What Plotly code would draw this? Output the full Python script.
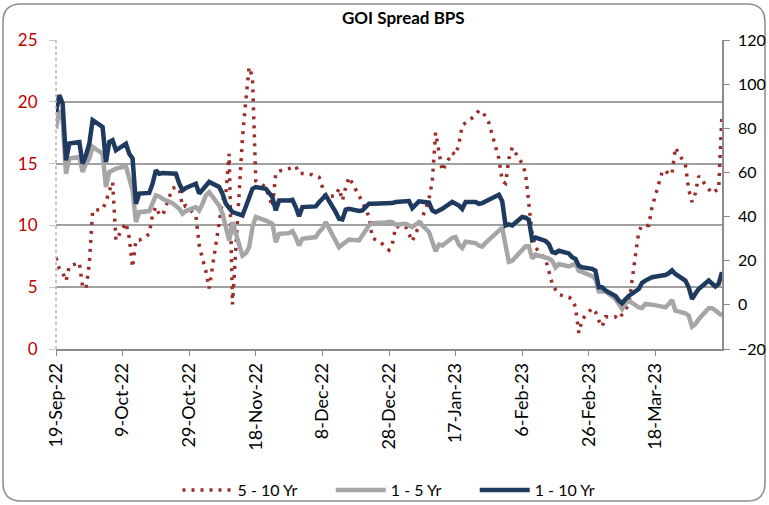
import pandas as pd
import plotly.graph_objects as go

# Trading-day calendar (weekdays) covered by the chart
dates = pd.bdate_range("2022-09-19", "2023-04-07")

# 5 - 10 Yr spread (bps, left axis)
spread_5_10 = [
    7.4, 6.5, 6.2, 5.5, 6.7,
    7.0, 5.0, 4.9, 6.9, 11.2,
    11.3, 11.9, 12.8, 13.5, 8.8,
    10.2, 9.0, 6.6, 8.8, 8.8,
    9.3, 10.9, 11.5, 10.9, 10.8,
    13.0, 13.1, 13.0, 11.5, 11.6,
    10.8, 8.4, 7.3, 6.3, 4.9,
    10.3, 12.0, 12.5, 15.8, 3.6,
    17.1, 20.1, 22.8, 22.0, 13.6,
    13.1, 12.3, 11.5, 14.2, 14.4,
    14.6, 14.7, 14.8, 14.2, 14.2,
    14.1, 14.0, 13.9, 13.1, 12.3,
    12.4, 13.0, 12.0, 13.1, 13.9,
    12.5, 11.9, 11.3, 10.7, 9.0,
    8.5, 8.2, 8.0, 8.5, 9.9,
    9.9, 9.3, 8.7, 9.4, 9.9,
    12.1, 13.6, 17.5, 15.9, 14.4,
    15.9, 15.7, 16.6, 18.1, 18.3,
    18.9, 19.3, 19.2, 18.8, 18.3,
    15.4, 13.6, 13.4, 15.4, 16.3,
    15.0, 14.2, 11.8, 9.3, 8.2,
    7.3, 6.3, 5.3, 4.8, 4.4,
    4.2, 4.0, 3.4, 1.3, 2.4,
    3.3, 3.0, 2.3, 1.8, 2.6,
    2.6, 2.4, 2.8, 3.2, 3.6,
    9.5, 10.0, 10.0, 10.0, 11.5,
    14.3, 14.5, 14.1, 14.2, 16.3,
    14.9, 12.9, 11.9, 12.6, 14.0,
    13.0, 12.6, 12.8, 12.9, 19.1,
]

# 1 - 5 Yr spread (bps, right axis)
spread_1_5 = [
    79.9, 88.2, 83.7, 59.4, 66.3,
    67.0, 60.2, 64.0, 66.3, 71.6,
    68.5, 53.4, 60.2, 61.0, 61.7,
    62.8, 58.0, 51.9, 37.5, 42.0,
    42.5, 45.8, 49.6, 49.1, 48.1,
    46.1, 45.0, 43.5, 41.3, 42.5,
    44.3, 42.8, 45.8, 49.6, 51.1,
    45.0, 41.3, 35.2, 29.2, 37.5,
    22.3, 23.4, 26.1, 35.2, 39.8,
    38.2, 37.5, 36.7, 28.4, 32.2,
    32.5, 33.4, 30.7, 26.9, 29.9,
    30.4, 30.7, 33.0, 34.5, 37.5,
    29.5, 26.1, 27.3, 28.4, 29.6,
    29.2, 31.4, 34.0, 36.0, 37.0,
    37.0, 37.3, 37.6, 37.5, 36.3,
    36.7, 36.0, 35.2, 36.4, 37.5,
    33.0, 28.4, 24.3, 27.3, 26.9,
    30.4, 30.7, 27.3, 25.8, 28.6,
    28.0, 26.9, 26.4, 28.1, 29.5,
    34.0, 35.0, 27.0, 19.5, 20.0,
    24.6, 26.5, 26.5, 21.0, 22.8,
    21.5, 21.0, 20.0, 17.0, 18.5,
    17.4, 18.0, 18.6, 15.5, 15.0,
    13.0, 11.7, 6.1, 6.1, 6.1,
    2.7, 0.4, -1.9, 0.7, 1.9,
    -1.1, -1.4, 0.4, 0.4, 0.1,
    -0.8, -1.1, 0.4, 2.2, -2.6,
    -3.8, -4.9, -9.9, -8.7, -6.5,
    -1.5, -1.5, -2.5, -3.8, -4.9,
]

# 1 - 10 Yr spread (bps, right axis)
spread_1_10 = [
    87.4, 95.0, 91.2, 65.5, 73.1,
    73.8, 64.0, 67.8, 73.0, 83.7,
    80.6, 64.7, 73.8, 74.6, 70.0,
    73.0, 68.5, 66.3, 45.8, 50.4,
    50.7, 54.9, 61.0, 59.4, 59.7,
    59.7, 59.4, 55.0, 51.9, 53.0,
    54.9, 50.4, 52.2, 54.6, 55.7,
    53.4, 50.4, 45.8, 43.5, 42.0,
    40.5, 44.3, 48.1, 52.6, 53.4,
    52.6, 50.7, 48.8, 42.8, 47.3,
    47.3, 47.6, 44.3, 40.2, 44.3,
    44.3, 44.6, 46.5, 48.0, 49.6,
    42.0, 39.0, 38.7, 43.1, 43.5,
    42.5, 42.8, 44.3, 45.8, 45.8,
    45.8, 45.8, 45.8, 46.1, 46.6,
    46.6, 47.0, 43.8, 45.5, 46.9,
    46.3, 42.8, 42.0, 42.5, 43.5,
    46.6, 45.8, 45.0, 43.5, 46.6,
    46.6, 45.8, 46.1, 47.0, 47.6,
    49.9, 47.0, 36.0, 36.5, 36.0,
    39.8, 39.5, 38.5, 29.5, 30.5,
    29.0, 27.5, 24.0, 23.5, 24.5,
    23.3, 21.6, 20.8, 17.7, 17.0,
    16.3, 15.5, 8.0, 8.0, 6.5,
    4.0, 2.0, 0.7, 2.5, 4.0,
    7.2, 10.0, 11.0, 11.5, 12.5,
    13.3, 13.5, 14.3, 15.6, 14.0,
    11.0, 8.0, 2.7, 5.0, 7.2,
    11.0, 9.5, 8.3, 9.5, 14.8,
]

tick_dates = ["2022-09-19", "2022-10-09", "2022-10-29", "2022-11-18", "2022-12-08",
              "2022-12-28", "2023-01-17", "2023-02-06", "2023-02-26", "2023-03-18"]
tick_labels = ["19-Sep-22", "9-Oct-22", "29-Oct-22", "18-Nov-22", "8-Dec-22",
               "28-Dec-22", "17-Jan-23", "6-Feb-23", "26-Feb-23", "18-Mar-23"]

FONT = "Lato"
RED = "#9B2D2A"
GRAY = "#A6A6A6"
NAVY = "#1F3A5F"
NB = "\u00a0"

fig = go.Figure()
fig.add_trace(go.Scatter(x=dates, y=spread_5_10, name="5 - 10 Yr" + NB * 7, mode="lines",
                         line=dict(color=RED, width=3.5, dash="3px,6px"), yaxis="y"))
fig.add_trace(go.Scatter(x=dates, y=spread_1_5, name="1 - 5 Yr" + NB * 7, mode="lines",
                         line=dict(color=GRAY, width=4.5), yaxis="y2"))
fig.add_trace(go.Scatter(x=dates, y=spread_1_10, name="1 - 10 Yr", mode="lines",
                         line=dict(color=NAVY, width=4.5), yaxis="y2"))

# plot area in pixels: x 56..722, y 40..349
L, R, T, B = 56, 722, 40, 349
W, H = R - L, B - T
def px(x):
    return (x - L) / W
def py(y):
    return (B - y) / H

# rounded chart border
x0, x1, yt, yb, rad = px(3), px(765), py(4), py(501), 18
rx, ry = rad / W, rad / H
path = (f"M {x0+rx},{yt} L {x1-rx},{yt} Q {x1},{yt} {x1},{yt-ry} "
        f"L {x1},{yb+ry} Q {x1},{yb} {x1-rx},{yb} L {x0+rx},{yb} "
        f"Q {x0},{yb} {x0},{yb+ry} L {x0},{yt-ry} Q {x0},{yt} {x0+rx},{yt} Z")

fig.update_layout(
    width=769, height=505,
    margin=dict(l=L, r=769 - R, t=T, b=505 - B, autoexpand=False),
    paper_bgcolor="white", plot_bgcolor="white",
    font=dict(family=FONT, color="black"),
    showlegend=True,
    legend=dict(orientation="h", x=0.5, xanchor="center", y=py(490), yanchor="middle",
                font=dict(size=16, family=FONT), bgcolor="rgba(0,0,0,0)",
                itemwidth=50, tracegroupgap=0),
    xaxis=dict(type="date", range=["2022-09-19", "2023-04-07"], automargin=False,
               tickvals=tick_dates, ticktext=tick_labels, tickangle=-90,
               tickfont=dict(size=18, family=FONT), ticks="outside", ticklen=5,
               tickcolor="#8C8C8C", showline=True, linecolor="#8C8C8C", linewidth=1.5,
               showgrid=False, zeroline=False),
    yaxis=dict(range=[0, 25], dtick=5, automargin=False,
               tickfont=dict(size=17, color="#C00000", family=FONT),
               showgrid=True, gridcolor="#A0A0A0", gridwidth=1.5, zeroline=False,
               showline=False, ticks="outside", ticklen=6, tickcolor="#C8C8C8",
               ticklabelstandoff=8),
    yaxis2=dict(range=[-20, 120], dtick=20, overlaying="y", side="right", automargin=False,
                tickfont=dict(size=16, color="black", family=FONT),
                showgrid=False, zeroline=False, showline=True, linecolor="#8C8C8C",
                linewidth=1.5, ticks="outside", ticklen=6, tickcolor="#8C8C8C",
                ticklabelstandoff=5),
    shapes=[
        dict(type="path", path=path, xref="paper", yref="paper",
             line=dict(color="#8C8C8C", width=1.5), layer="below"),
        dict(type="line", xref="paper", yref="paper", x0=0, x1=0, y0=0, y1=1,
             line=dict(color="#B0B0B0", width=1.5, dash="dot")),
    ],
    annotations=[
        dict(text="<b>GOI Spread BPS</b>", xref="paper", yref="paper",
             x=px(403), y=py(18), xanchor="center", yanchor="middle",
             showarrow=False, font=dict(size=17, family=FONT, color="black")),
    ],
)

fig.write_html("out.html", config={"displayModeBar": False},
               post_script="document.body.style.margin='0';document.body.style.overflow='hidden';")
